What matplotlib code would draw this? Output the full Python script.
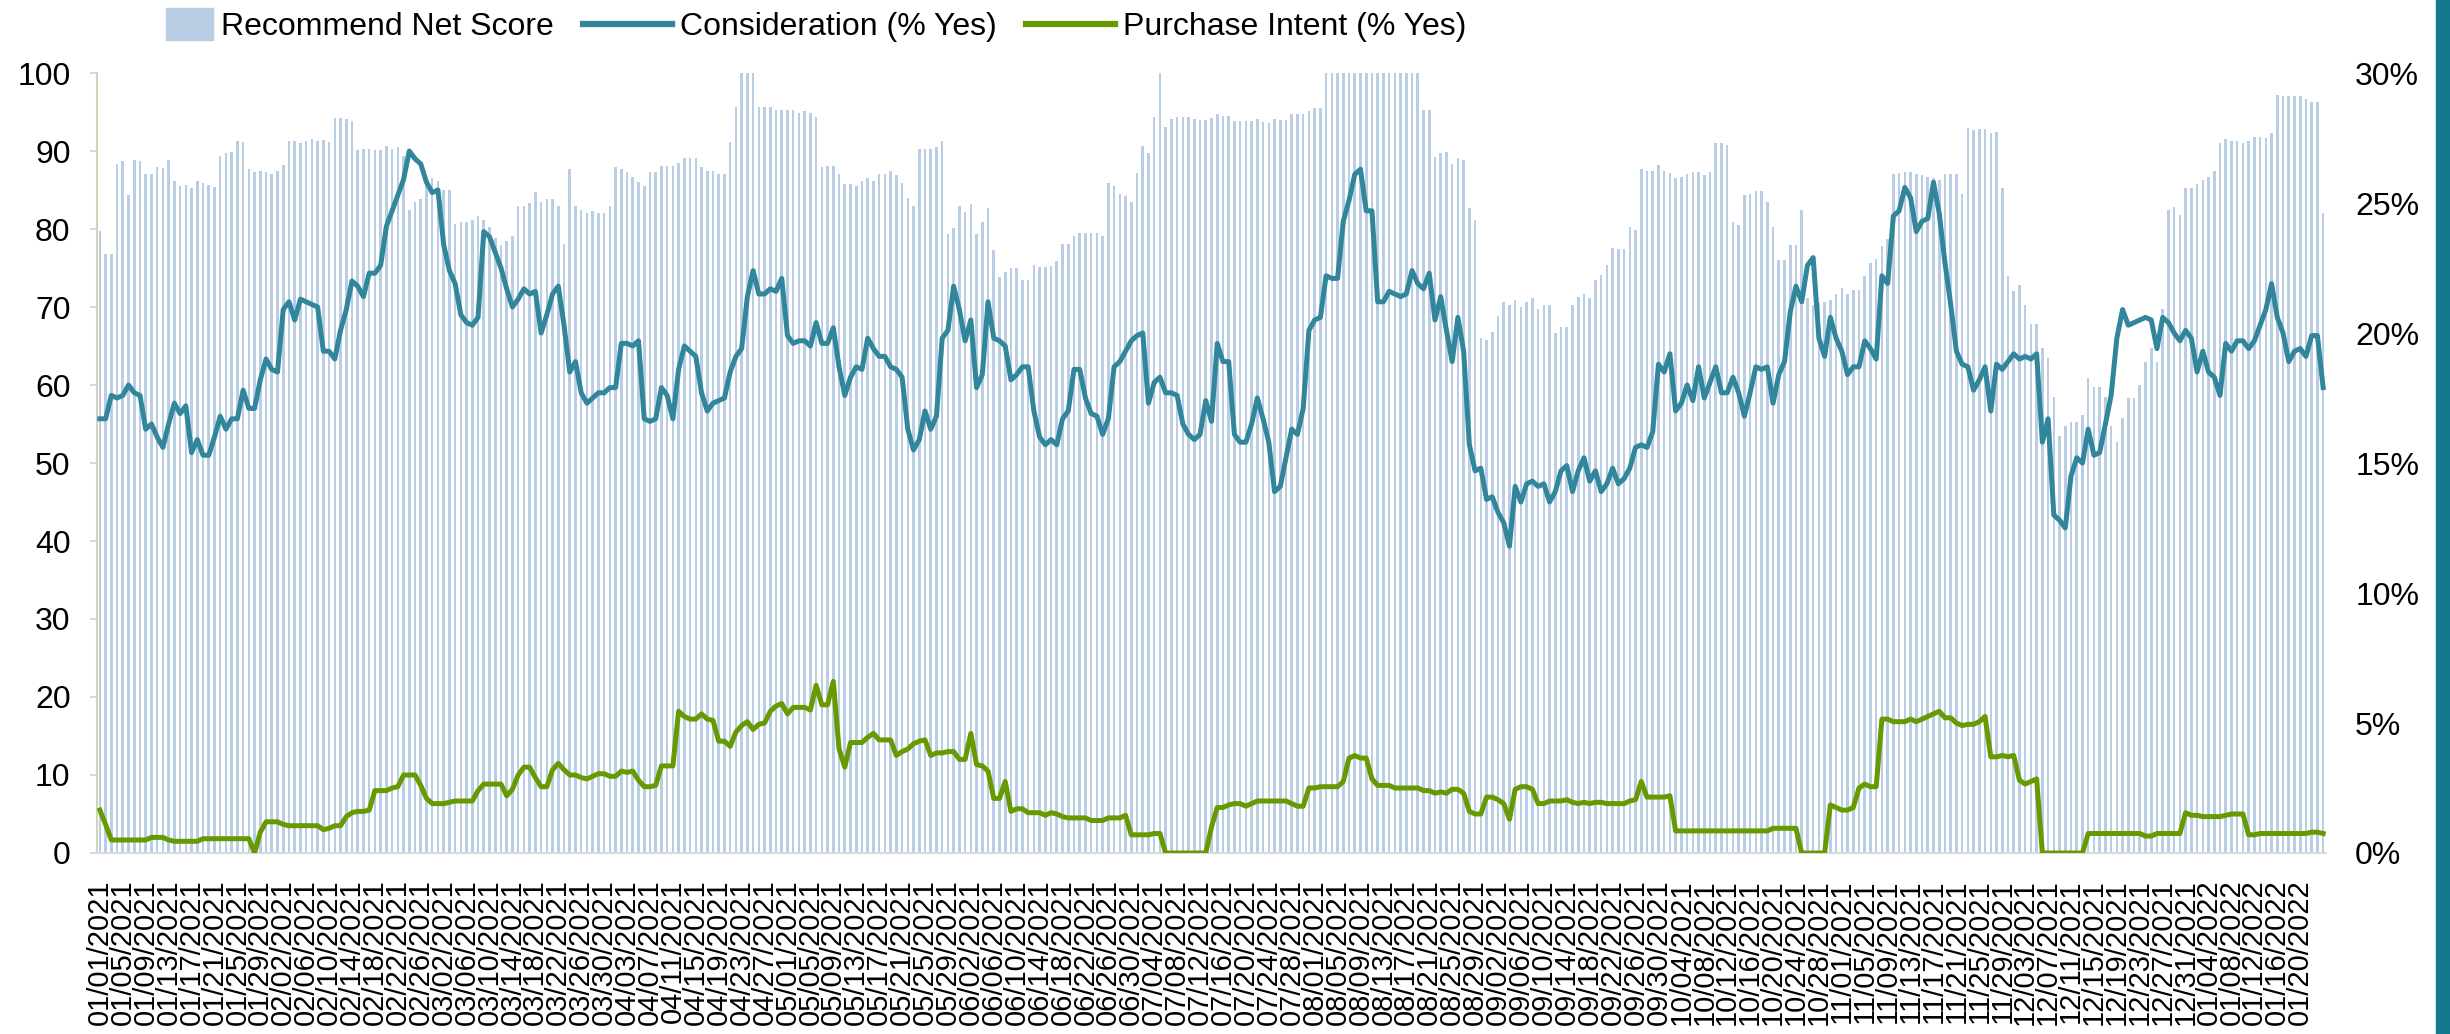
import matplotlib
matplotlib.use("Agg")
import matplotlib.pyplot as plt
import numpy as np
import pandas as pd
from matplotlib.patches import Rectangle
from matplotlib.lines import Line2D
from matplotlib.legend_handler import HandlerPatch
from matplotlib.ticker import FuncFormatter

plt.rcParams['font.family'] = ['Liberation Sans', 'DejaVu Sans']

# daily values in chunks (first day 01/01/2021)
start_day = "2021-01-01"

# Recommend Net Score (left axis)
rns_1 = [79.7, 76.8, 76.8, 88.3, 88.7, 84.3, 88.8, 88.7, 87, 87.1, 87.9, 87.8, 88.9, 86.1, 85.5, 85.7, 85.3,
         86.2, 85.9, 85.7, 85.4, 89.3, 89.8, 89.9, 91.3, 91.1, 87.7, 87.3, 87.5, 87.3, 87, 87.4, 88.2, 91.3,
         91.3, 91, 91.3, 91.5, 91.3, 91.4, 91.2, 94.2, 94.2, 94.1, 93.9, 90.1, 90.2, 90.3, 90.1]
rns_2 = [90.1, 90.7, 90.3, 90.5, 89.3, 82.5, 83.5, 83.9, 86, 86.5, 86.1, 85, 85, 80.7, 80.9, 80.9, 81.1,
         81.7, 81.1, 80.2, 78.9, 78, 78.5, 79.1, 83, 83, 83.3, 84.8, 83.5, 83.9, 83.8, 82.9, 78.1, 87.7,
         82.9, 82.5, 82, 82.3, 82, 82, 82.9, 88, 87.7, 87.3, 86.7, 86, 85.5, 87.3]
rns_3 = [87.3, 88.1, 88.1, 88.1, 88.5, 89.1, 89.1, 89.1, 87.9, 87.5, 87.4, 87.1, 87.1, 91.1, 95.7, 100, 100,
         100, 95.6, 95.6, 95.6, 95.3, 95.2, 95.2, 95.2, 94.9, 95.1, 94.9, 94.3, 87.9, 88.1, 88.1, 87, 85.8,
         85.8, 85.5, 86.1, 86.5, 86.2, 87.1, 87.1, 87.5, 86.9, 85.9, 84, 83, 90.3, 90.3, 90.3, 90.5, 91.3]
rns_4 = [79.3, 80.1, 82.9, 82.2, 83.2, 79.3, 80.9, 82.7, 77.3, 73.9, 74.5, 75, 75, 73.5, 73.5, 75.4, 75.1,
         75.1, 75.3, 75.9, 78.1, 78.1, 79.1, 79.5, 79.5, 79.5, 79.5, 79.1, 85.9, 85.5, 84.5, 84.2, 83.4,
         87.2, 90.6, 89.7, 94.3, 100, 93.1, 94.1, 94.3, 94.3, 94.4, 94.1, 94, 94, 94.2, 94.7, 94.5]
rns_5 = [94.5, 93.9, 93.8, 93.8, 93.8, 94.1, 93.7, 93.6, 94.1, 94, 94, 94.8, 94.7, 94.8, 95.1, 95.5, 95.5,
         100, 100, 100, 100, 100, 100, 100, 100, 100, 100, 100, 100, 100, 100, 100, 100, 100,
         95.3, 95.3, 89.2, 89.7, 89.9, 88.3, 89.1, 88.8, 82.7, 81.2, 66, 65.8, 66.8, 68.8, 70.7]
rns_6 = [70.3, 70.9, 70, 70.7, 71.1, 69.8, 70.3, 70.3, 66.7, 67.5, 67.5, 70.3, 71.3, 71.7, 71.2, 73.5,
         74.1, 75.4, 77.6, 77.5, 77.5, 80.3, 79.9, 87.7, 87.5, 87.5, 88.2, 87.5, 87.2, 86.6, 86.7, 87,
         87.3, 87.3, 86.9, 87.3, 91, 91, 90.8, 80.9, 80.5, 84.3, 84.5, 84.9, 84.9, 83.4, 80.3, 76]
rns_7 = [76, 78, 78, 82.5, 71.1, 70.3, 70.5, 70.7, 70.9, 71.7, 72.4, 71.7, 72.2, 72.2, 74, 75.7, 76.2,
         77.8, 78.7, 87.1, 87.2, 87.3, 87.3, 87, 86.9, 86.7, 86.5, 86.3, 87.1, 87.1, 87.1, 84.5, 93, 92.7,
         92.8, 92.8, 92.3, 92.5, 85.3, 74, 72, 72.8, 70.3, 67.8, 67.8, 64.8, 63.5, 58.5, 53.5]
rns_8 = [54.7, 55.3, 55.3, 56.2, 60.9, 59.8, 59.8, 58.5, 54.7, 52.7, 55.8, 58.3, 58.3, 60, 63, 64.7, 63,
         69.7, 82.5, 82.8, 81.8, 85.3, 85.3, 85.8, 86.3, 86.7, 87.5, 91, 91.5, 91.3, 91.3, 91, 91.3, 91.8,
         91.8, 91.7, 92.3, 97.2, 97, 97, 97, 97, 96.7, 96.3, 96.3, 82]

# Consideration (% Yes), right axis
cons_1 = [16.7, 16.7, 17.6, 17.5, 17.6, 18.0, 17.7, 17.6, 16.3, 16.5, 16.0, 15.6, 16.5, 17.3, 16.9, 17.2,
          15.4, 15.9, 15.3, 15.3, 16.0, 16.8, 16.3, 16.7, 16.7, 17.8, 17.1, 17.1, 18.2, 19.0, 18.6, 18.5,
          20.9, 21.2, 20.5, 21.3, 21.2, 21.1, 21.0, 19.3, 19.3, 19.0, 20.1, 20.9, 22.0, 21.8, 21.4, 22.3, 22.3]
cons_2 = [22.6, 24.1, 24.7, 25.3, 25.9, 27.0, 26.7, 26.5, 25.8, 25.4, 25.5, 23.4, 22.4, 21.9, 20.7, 20.4,
          20.3, 20.6, 23.9, 23.7, 23.1, 22.5, 21.7, 21.0, 21.3, 21.7, 21.5, 21.6, 20.0, 20.7, 21.5, 21.8,
          20.3, 18.5, 18.9, 17.7, 17.3, 17.5, 17.7, 17.7, 17.9, 17.9, 19.6, 19.6, 19.5, 19.7, 16.7, 16.6]
cons_3 = [16.7, 17.9, 17.6, 16.7, 18.6, 19.5, 19.3, 19.1, 17.7, 17.0, 17.3, 17.4, 17.5, 18.5, 19.1, 19.4,
          21.4, 22.4, 21.5, 21.5, 21.7, 21.6, 22.1, 19.9, 19.6, 19.7, 19.7, 19.5, 20.4, 19.6, 19.6, 20.2,
          18.7, 17.6, 18.3, 18.7, 18.6, 19.8, 19.4, 19.1, 19.1, 18.7, 18.6, 18.3, 16.3, 15.5, 15.9, 17.0,
          16.3, 16.8, 19.8]
cons_4 = [20.1, 21.8, 20.9, 19.7, 20.5, 17.9, 18.4, 21.2, 19.8, 19.7, 19.5, 18.2, 18.4, 18.7, 18.7, 17.0,
          16.0, 15.7, 15.9, 15.7, 16.7, 17.0, 18.6, 18.6, 17.5, 16.9, 16.8, 16.1, 16.7, 18.7, 18.9, 19.3,
          19.7, 19.9, 20.0, 17.3, 18.1, 18.3, 17.7, 17.7, 17.6, 16.5, 16.1, 15.9, 16.1, 17.4, 16.6, 19.6, 18.9]
cons_5 = [18.9, 16.1, 15.8, 15.8, 16.5, 17.5, 16.7, 15.8, 13.9, 14.1, 15.2, 16.3, 16.1, 17.1, 20.1, 20.5,
          20.6, 22.2, 22.1, 22.1, 24.3, 25.1, 26.1, 26.3, 24.7, 24.7, 21.2, 21.2, 21.6, 21.5, 21.4, 21.5,
          22.4, 21.9, 21.7, 22.3, 20.5, 21.4, 20.1, 18.9, 20.6, 19.3, 15.7, 14.7, 14.8, 13.6, 13.7, 13.1, 12.7]
cons_6 = [11.8, 14.1, 13.5, 14.2, 14.3, 14.1, 14.2, 13.5, 13.9, 14.7, 14.9, 13.9, 14.7, 15.2, 14.3, 14.7,
          13.9, 14.2, 14.8, 14.2, 14.4, 14.8, 15.6, 15.7, 15.6, 16.2, 18.8, 18.5, 19.2, 17.0, 17.3, 18.0,
          17.4, 18.7, 17.5, 18.1, 18.7, 17.7, 17.7, 18.3, 17.7, 16.8, 17.7, 18.7, 18.6, 18.7, 17.3, 18.4]
cons_7 = [18.9, 20.8, 21.8, 21.2, 22.6, 22.9, 19.8, 19.1, 20.6, 19.8, 19.3, 18.4, 18.7, 18.7, 19.7, 19.4,
          19.0, 22.2, 21.9, 24.5, 24.7, 25.6, 25.2, 23.9, 24.3, 24.4, 25.8, 24.6, 22.7, 21.1, 19.3, 18.8,
          18.7, 17.8, 18.2, 18.7, 17.0, 18.8, 18.6, 18.9, 19.2, 19.0, 19.1, 19.0, 19.2, 15.8, 16.7, 13.0, 12.8]
cons_8 = [12.5, 14.5, 15.2, 15.0, 16.3, 15.3, 15.4, 16.5, 17.6, 19.8, 20.9, 20.3, 20.4, 20.5, 20.6, 20.5,
          19.4, 20.6, 20.4, 20.0, 19.7, 20.1, 19.8, 18.5, 19.3, 18.5, 18.3, 17.6, 19.6, 19.3, 19.7, 19.7,
          19.4, 19.7, 20.3, 20.9, 21.9, 20.6, 20.0, 18.9, 19.3, 19.4, 19.1, 19.9, 19.9, 17.9]

# Purchase Intent (% Yes), right axis
pi_1 = [1.65, 1.1, .5, .5, .5, .5, .5, .5, .5, .6, .6, .6, .5, .45, .45, .45, .45, .45, .55, .55, .55, .55,
        .55, .55, .55, .55, .55, 0, .8, 1.2, 1.2, 1.2, 1.1, 1.05, 1.05, 1.05, 1.05, 1.05, 1.05, .9, .95,
        1.05, 1.05, 1.4, 1.55, 1.6, 1.6, 1.65, 2.4]
pi_2 = [2.4, 2.4, 2.5, 2.55, 3.0, 3.0, 3.0, 2.6, 2.1, 1.9, 1.9, 1.9, 1.95, 2.0, 2.0, 2.0, 2.0, 2.4, 2.65,
        2.65, 2.65, 2.65, 2.2, 2.45, 3.0, 3.3, 3.3, 2.9, 2.55, 2.55, 3.2, 3.45, 3.2, 3.0, 3.0, 2.9, 2.85,
        2.95, 3.05, 3.05, 2.95, 2.95, 3.15, 3.1, 3.15, 2.8, 2.55, 2.55]
pi_3 = [2.6, 3.35, 3.35, 3.35, 5.45, 5.25, 5.15, 5.15, 5.35, 5.15, 5.1, 4.3, 4.3, 4.1, 4.65, 4.9, 5.05,
        4.75, 4.95, 5.0, 5.45, 5.65, 5.75, 5.35, 5.6, 5.6, 5.6, 5.5, 6.45, 5.7, 5.7, 6.6, 4.0, 3.3, 4.25,
        4.25, 4.25, 4.45, 4.6, 4.35, 4.35, 4.35, 3.75, 3.9, 4.0, 4.2, 4.3, 4.35, 3.75, 3.85, 3.85]
pi_4 = [3.9, 3.9, 3.6, 3.6, 4.6, 3.4, 3.35, 3.15, 2.1, 2.1, 2.75, 1.6, 1.7, 1.7, 1.55, 1.55, 1.55, 1.45,
        1.55, 1.5, 1.4, 1.35, 1.35, 1.35, 1.35, 1.25, 1.25, 1.25, 1.35, 1.35, 1.35, 1.45, .7, .7, .7, .7,
        .75, .75, 0, 0, 0, 0, 0, 0, 0, 0, 1.0, 1.75, 1.75]
pi_5 = [1.85, 1.9, 1.9, 1.8, 1.9, 2.0, 2.0, 2.0, 2.0, 2.0, 2.0, 1.9, 1.8, 1.8, 2.5, 2.5, 2.55, 2.55, 2.55,
        2.55, 2.75, 3.65, 3.75, 3.65, 3.65, 2.85, 2.6, 2.6, 2.6, 2.5, 2.5, 2.5, 2.5, 2.5, 2.4, 2.4, 2.3,
        2.35, 2.3, 2.45, 2.45, 2.3, 1.6, 1.5, 1.5, 2.15, 2.15, 2.05, 1.9]
pi_6 = [1.3, 2.45, 2.55, 2.55, 2.45, 1.9, 1.9, 2.0, 2.0, 2.0, 2.05, 1.95, 1.9, 1.95, 1.9, 1.95, 1.95, 1.9,
        1.9, 1.9, 1.9, 2.0, 2.05, 2.75, 2.15, 2.15, 2.15, 2.15, 2.2, .85, .85, .85, .85, .85, .85, .85,
        .85, .85, .85, .85, .85, .85, .85, .85, .85, .85, .95, .95]
pi_7 = [.95, .95, .95, 0, 0, 0, 0, 0, 1.85, 1.75, 1.65, 1.65, 1.75, 2.5, 2.65, 2.55, 2.55, 5.15, 5.15, 5.05,
        5.05, 5.05, 5.15, 5.05, 5.15, 5.25, 5.35, 5.45, 5.2, 5.2, 5.0, 4.9, 4.95, 4.95, 5.05, 5.25, 3.7,
        3.7, 3.75, 3.7, 3.75, 2.8, 2.65, 2.75, 2.85, 0, 0, 0, 0]
pi_8 = [0, 0, 0, 0, .75, .75, .75, .75, .75, .75, .75, .75, .75, .75, .65, .65, .75, .75, .75, .75, .75,
        1.55, 1.45, 1.45, 1.4, 1.4, 1.4, 1.4, 1.45, 1.5, 1.5, 1.5, .7, .7, .75, .75, .75, .75, .75, .75,
        .75, .75, .75, .8, .8, .75]

recommend = rns_1 + rns_2 + rns_3 + rns_4 + rns_5 + rns_6 + rns_7 + rns_8
consideration = cons_1 + cons_2 + cons_3 + cons_4 + cons_5 + cons_6 + cons_7 + cons_8
purchase = pi_1 + pi_2 + pi_3 + pi_4 + pi_5 + pi_6 + pi_7 + pi_8

n = len(recommend)
dates = pd.date_range(start_day, periods=n, freq="D")
x = np.arange(n)
label_idx = np.arange(0, n - 4, 4)   # every 4th day, last one is 01/20/2022

bar_color = "#b9cde5"
cons_color = "#31869b"
pi_color = "#669a00"

fig = plt.figure(figsize=(24.5, 10.34), dpi=100)
ax = fig.add_axes([97/2450, 1-853/1034, (2326-97)/2450, (853-73)/1034])

ax.bar(x, recommend, width=0.45, color=bar_color, linewidth=0)
ax.set_xlim(-0.5, n-0.5)
ax.set_ylim(0, 100)
ax.set_yticks(range(0, 101, 10))
ax.tick_params(axis='y', labelsize=23, length=5, width=1.2, color='#d6d1bb', pad=14)
ax.set_xticks(label_idx)
ax.set_xticklabels(dates[label_idx].strftime('%m/%d/%Y'), rotation=90, fontsize=21, va='top', ha='center')
ax.tick_params(axis='x', length=0, pad=19)
for s in ['top', 'right']:
    ax.spines[s].set_visible(False)
ax.spines['left'].set_color('#d6d1bb')
ax.spines['left'].set_linewidth(1.5)
ax.spines['bottom'].set_color('#d9d9d9')
ax.spines['bottom'].set_linewidth(1.5)

ax2 = ax.twinx()
ax2.plot(x, consideration, color=cons_color, lw=3.6, solid_joinstyle='round')
ax2.plot(x, purchase, color=pi_color, lw=3.6, solid_joinstyle='round')
ax2.set_ylim(0, 30)
ax2.set_yticks(range(0, 31, 5))
ax2.yaxis.set_major_formatter(FuncFormatter(lambda v, p: '%d%%' % v))
ax2.tick_params(axis='y', labelsize=23, length=0, pad=21)
for s in ax2.spines.values():
    s.set_visible(False)

# legend on top
def square_patch(legend, orig_handle, xdescent, ydescent, width, height, fontsize):
    w = 1.5 * fontsize
    h = 1.0 * fontsize
    return Rectangle((-xdescent + width - w, -ydescent + height/2 - h/2), w, h)

handles = [Rectangle((0, 0), 1, 1, color=bar_color),
           Line2D([], [], color=cons_color, lw=4.5),
           Line2D([], [], color=pi_color, lw=4.5)]
labels = ['Recommend Net Score', 'Consideration (% Yes)', 'Purchase Intent (% Yes)']
fig.legend(handles, labels, loc='center left', bbox_to_anchor=(108/2450, 1-27/1034), ncol=3,
           frameon=False, fontsize=23, handlelength=2.8, handletextpad=0.25, columnspacing=0.9,
           borderpad=0, handler_map={Rectangle: HandlerPatch(patch_func=square_patch)})

# teal strip at the right edge
fig.patches.append(Rectangle((2436/2450, 0), 14/2450, 1, transform=fig.transFigure,
                             color='#14788f', zorder=0))

fig.savefig('out.png', dpi=100)
